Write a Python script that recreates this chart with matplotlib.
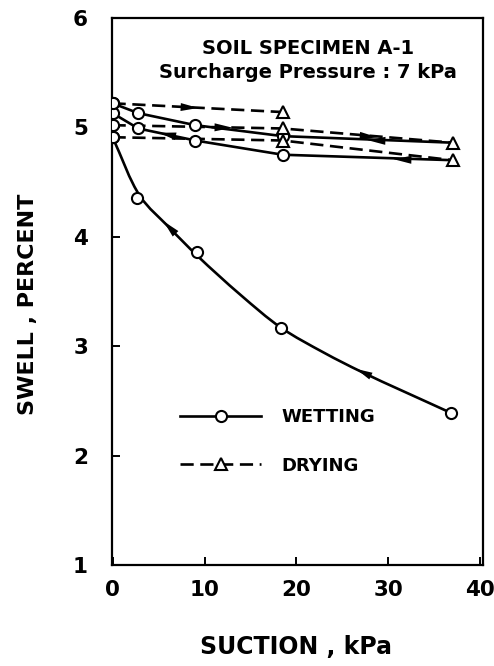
import numpy as np
import matplotlib.pyplot as plt
from matplotlib.path import Path
from matplotlib.patches import PathPatch
from matplotlib.lines import Line2D

# suction (kPa) and swell (%) for each wetting / drying path
wet_main_x = [36.8, 18.3, 9.2, 2.7, 0.0]
wet_main_y = [2.39, 3.17, 3.86, 4.35, 4.91]

# hand-drawn trend line through the first wetting points
wet_fit_x = [36.8, 27.2, 23.0, 18.3, 13.9, 9.3, 6.1, 3.0, 0.0]
wet_fit_y = [2.39, 2.76, 2.94, 3.17, 3.47, 3.82, 4.09, 4.37, 4.91]

wet_2_x = [37.0, 18.5, 9.0, 2.8, 0.0]
wet_2_y = [4.86, 4.92, 5.02, 5.13, 5.22]

wet_3_x = [37.0, 18.5, 9.0, 2.8, 0.0]
wet_3_y = [4.70, 4.75, 4.88, 4.99, 5.13]

dry_1_x = [0.0, 18.5]
dry_1_y = [5.22, 5.14]

dry_2_x = [0.0, 18.5, 37.0]
dry_2_y = [5.02, 4.99, 4.86]

dry_3_x = [0.0, 18.5, 37.0]
dry_3_y = [4.91, 4.88, 4.70]

x_ticks = [0, 10, 20, 30, 40]
y_ticks = [1, 2, 3, 4, 5, 6]

FONT = "DejaVu Sans"
LW = 1.9
MS = 8

fig = plt.figure(figsize=(4.94, 6.66), dpi=100)
ax = fig.add_axes([0.226, 0.1517, 0.752, 0.8213])
ax.set_xlim(-0.1, 40.3)
ax.set_ylim(1, 6)


def bezier_segments(xs, ys):
    # centripetal catmull-rom through the points, worked out in screen space
    p = ax.transData.transform(np.column_stack([xs, ys]))
    n = len(p)
    segs = []
    for i in range(n - 1):
        p1, p2 = p[i], p[i + 1]
        p0 = p[i - 1] if i > 0 else 2 * p1 - p2
        p3 = p[i + 2] if i + 2 < n else 2 * p2 - p1
        d1 = np.linalg.norm(p1 - p0) ** 0.5
        d2 = np.linalg.norm(p2 - p1) ** 0.5
        d3 = np.linalg.norm(p3 - p2) ** 0.5
        b1 = (d1 ** 2 * p2 - d2 ** 2 * p0 +
              (2 * d1 ** 2 + 3 * d1 * d2 + d2 ** 2) * p1) / (3 * d1 * (d1 + d2))
        b2 = (d3 ** 2 * p1 - d2 ** 2 * p3 +
              (2 * d3 ** 2 + 3 * d3 * d2 + d2 ** 2) * p2) / (3 * d3 * (d3 + d2))
        segs.append((p1, b1, b2, p2))
    return segs


def smooth_path(xs, ys):
    inv = ax.transData.inverted()
    segs = bezier_segments(xs, ys)
    verts = [segs[0][0]]
    codes = [Path.MOVETO]
    for s in segs:
        verts += [s[1], s[2], s[3]]
        codes += [Path.CURVE4] * 3
    return Path(inv.transform(np.array(verts)), codes)


def draw_head(pos, ang, size=13):
    head = np.array([(1.0, 0.0), (-1.0, 0.45), (-1.0, -0.45), (1.0, 0.0)])
    rot = np.array([[np.cos(ang), -np.sin(ang)], [np.sin(ang), np.cos(ang)]])
    x, y = ax.transData.inverted().transform(pos)
    ax.plot(x, y, marker=head @ rot.T, ms=size, color="black",
            markeredgewidth=0, zorder=5)


def arrow_on_curve(xs, ys, seg, t=0.5):
    # arrowhead on the smoothed curve, along its tangent
    q0, q1, q2, q3 = bezier_segments(xs, ys)[seg]
    u = 1 - t
    pos = u ** 3 * q0 + 3 * u ** 2 * t * q1 + 3 * u * t ** 2 * q2 + t ** 3 * q3
    tan = 3 * u ** 2 * (q1 - q0) + 6 * u * t * (q2 - q1) + 3 * t ** 2 * (q3 - q2)
    draw_head(pos, np.arctan2(tan[1], tan[0]))


def arrow_on(xs, ys, seg, frac=0.5):
    # arrowhead part way along straight segment seg
    d0 = ax.transData.transform((xs[seg], ys[seg]))
    d1 = ax.transData.transform((xs[seg + 1], ys[seg + 1]))
    draw_head(d0 + frac * (d1 - d0), np.arctan2(d1[1] - d0[1], d1[0] - d0[0]))


circle = dict(marker="o", ms=MS, mfc="white", mec="black", mew=1.5)
tri = dict(marker="^", ms=MS, mfc="white", mec="black", mew=1.5)

# first wetting: smooth trend line plus the measured points
ax.add_patch(PathPatch(smooth_path(wet_fit_x, wet_fit_y), fill=False,
                       lw=LW, edgecolor="black", zorder=3))
ax.plot(wet_main_x, wet_main_y, ls="none", zorder=4, **circle)
arrow_on_curve(wet_fit_x, wet_fit_y, 1, 0.0)
arrow_on_curve(wet_fit_x, wet_fit_y, 6, 0.0)

for xs, ys in [(wet_2_x, wet_2_y), (wet_3_x, wet_3_y)]:
    ax.plot(xs, ys, "-", color="black", lw=LW, zorder=3)
    ax.plot(xs[1:], ys[1:], ls="none", zorder=4, **circle)
arrow_on(wet_2_x, wet_2_y, 0, 0.45)
arrow_on(wet_3_x, wet_3_y, 0, 0.3)
arrow_on(wet_3_x, wet_3_y, 2, 0.5)

for xs, ys in [(dry_1_x, dry_1_y), (dry_2_x, dry_2_y), (dry_3_x, dry_3_y)]:
    ax.plot(xs, ys, color="black", lw=LW, dashes=(5, 2.5), zorder=3)
    ax.plot(xs[:1], ys[:1], ls="none", zorder=4, **circle)
    ax.plot(xs[1:], ys[1:], ls="none", zorder=4, **tri)
arrow_on(dry_1_x, dry_1_y, 0, 0.45)
arrow_on(dry_2_x, dry_2_y, 0, 0.65)
arrow_on(dry_2_x, dry_2_y, 1, 0.5)

# axes styling
for side in ["top", "right", "left", "bottom"]:
    ax.spines[side].set_linewidth(1.6)
ax.set_xticks(x_ticks)
ax.set_yticks(y_ticks)
ax.tick_params(direction="in", length=6, width=1.4, labelsize=15.5)
ax.tick_params(axis="y", pad=17)
ax.tick_params(axis="x", pad=11)
for lab in ax.get_xticklabels() + ax.get_yticklabels():
    lab.set_fontfamily(FONT)
    lab.set_fontweight("bold")

ax.set_xlabel("SUCTION , kPa", fontsize=17, fontweight="bold", family=FONT)
ax.set_ylabel("SWELL , PERCENT", fontsize=16, fontweight="bold", family=FONT)
ax.xaxis.set_label_coords(0.497, -0.128)
ax.yaxis.set_label_coords(-0.199, 0.477)

ax.text(0.529, 0.945, "SOIL SPECIMEN A-1", transform=ax.transAxes,
        ha="center", va="center", fontsize=14, fontweight="bold",
        family=FONT)
ax.text(0.528, 0.901, "Surcharge Pressure : 7 kPa", transform=ax.transAxes,
        ha="center", va="center", fontsize=14, fontweight="bold",
        family=FONT)

handles = [
    Line2D([], [], color="black", lw=LW, **circle),
    Line2D([], [], color="black", lw=LW, dashes=(5, 2.5), **tri),
]
ax.legend(handles, ["WETTING", "DRYING"], loc="center left",
          bbox_to_anchor=(0.184, 0.226), frameon=False, borderpad=0,
          borderaxespad=0, handlelength=4.5, handletextpad=1.1,
          labelspacing=1.7,
          prop={"family": FONT, "weight": "bold", "size": 13})

fig.savefig("out.png", dpi=100)
